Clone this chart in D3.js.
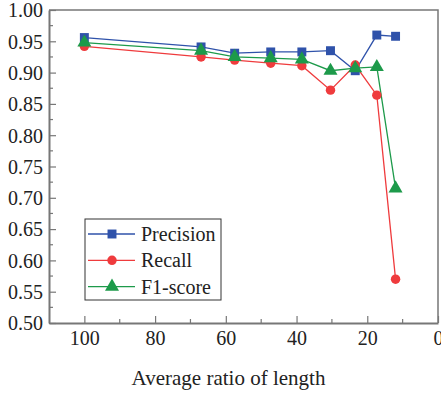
<!DOCTYPE html>
<html>
<head>
<meta charset="utf-8">
<script src="https://cdn.jsdelivr.net/npm/d3@7"></script>
<style>
  body { margin: 0; background: #fff; }
  svg { display: block; }
  text { font-family: "Liberation Serif", "Times New Roman", serif; fill: #222; }
</style>
</head>
<body>
<svg id="chart" width="441" height="396"></svg>
<script>
// average ratio of length (x) for each test point
var ratios = [100, 67, 57.5, 47.3, 38.5, 30.4, 23.4, 17.3, 12.0];
var precision = [0.956, 0.941, 0.931, 0.933, 0.933, 0.935, 0.903, 0.960, 0.958];
var recall    = [0.942, 0.925, 0.920, 0.915, 0.911, 0.872, 0.912, 0.864, 0.570];
var f1score   = [0.948, 0.935, 0.925, 0.923, 0.921, 0.903, 0.907, 0.909, 0.715];
var seriesNames = ["Precision", "Recall", "F1-score"];
var xTicks = [100, 80, 60, 40, 20, 0];
var yTicks = [0.50, 0.55, 0.60, 0.65, 0.70, 0.75, 0.80, 0.85, 0.90, 0.95, 1.00];

var svg = d3.select("#chart"),
    margin = {left: 49, top: 10, right: 3, bottom: 73},
    width = 441 - margin.left - margin.right,
    height = 396 - margin.top - margin.bottom;

var colors = ["#2f52aa", "#ef3b3d", "#1d9a4a"];
var symbols = [d3.symbolSquare, d3.symbolCircle, d3.symbolTriangle];
var symSizes = [80, 70, 85];
var axisColor = "#777";
var serif = "Liberation Serif, Times New Roman, serif";

var x = d3.scaleLinear().domain([110, 0]).range([0, width]);
var y = d3.scaleLinear().domain([0.5, 1.0]).range([height, 0]);

var g = svg.append("g").attr("transform", "translate(" + margin.left + "," + margin.top + ")");

// frame (top and right)
g.append("path")
    .attr("d", "M0,0H" + width + "V" + height)
    .attr("fill", "none")
    .attr("stroke", axisColor)
    .attr("stroke-width", 1.5);

// minor ticks
var xMinor = d3.range(10, 110, 20);
g.selectAll(".xminor").data(xMinor).enter().append("line")
    .attr("x1", x).attr("x2", x)
    .attr("y1", height).attr("y2", height - 4)
    .attr("stroke", axisColor).attr("stroke-width", 1.2);
var yMinor = d3.range(0.525, 1.0, 0.05);
g.selectAll(".yminor").data(yMinor).enter().append("line")
    .attr("y1", y).attr("y2", y)
    .attr("x1", 0).attr("x2", 4)
    .attr("stroke", axisColor).attr("stroke-width", 1.2);

var xAxis = g.append("g")
    .attr("transform", "translate(0," + height + ")")
    .call(d3.axisBottom(x).tickValues(xTicks).tickSizeInner(-7).tickSizeOuter(0).tickPadding(8).tickFormat(d3.format("d")));
var yAxis = g.append("g")
    .call(d3.axisLeft(y).tickValues(yTicks).tickSizeInner(-7).tickSizeOuter(0).tickPadding(6).tickFormat(d3.format(".2f")));

[xAxis, yAxis].forEach(function (ax) {
    ax.attr("font-family", serif);
    ax.select(".domain").attr("stroke", axisColor).attr("stroke-width", 2);
    ax.selectAll(".tick line").attr("stroke", axisColor).attr("stroke-width", 1.2);
    ax.selectAll(".tick text")
        .attr("font-family", serif)
        .attr("font-size", 20)
        .attr("fill", "#222");
});
yAxis.selectAll(".tick text").attr("dy", "0.34em");

svg.append("text")
    .attr("x", margin.left + width / 2 - 15)
    .attr("y", 385)
    .attr("text-anchor", "middle")
    .attr("font-family", serif)
    .attr("font-size", 21)
    .text("Average ratio of length");

var seriesData = [precision, recall, f1score];
var line = d3.line().x(function (d) { return x(d[0]); }).y(function (d) { return y(d[1]); });

seriesData.forEach(function (vals, i) {
    var pts = ratios.map(function (r, j) { return [r, vals[j]]; });
    g.append("path")
        .datum(pts)
        .attr("d", line)
        .attr("fill", "none")
        .attr("stroke", colors[i])
        .attr("stroke-width", 1.3);
});
seriesData.forEach(function (vals, i) {
    var pts = ratios.map(function (r, j) { return [r, vals[j]]; });
    g.selectAll(".m" + i).data(pts).enter().append("path")
        .attr("transform", function (d) { return "translate(" + x(d[0]) + "," + y(d[1]) + ")"; })
        .attr("d", d3.symbol().type(symbols[i]).size(symSizes[i]))
        .attr("fill", colors[i]);
});

// legend
var legend = svg.append("g").attr("transform", "translate(85,219)");
legend.append("rect")
    .attr("width", 136).attr("height", 81)
    .attr("fill", "#fff")
    .attr("stroke", "#333").attr("stroke-width", 1);
seriesNames.forEach(function (name, i) {
    var row = legend.append("g").attr("transform", "translate(0," + (15 + i * 26.3) + ")");
    row.append("line")
        .attr("x1", 3).attr("x2", 50)
        .attr("stroke", colors[i]).attr("stroke-width", 1.3);
    row.append("path")
        .attr("transform", "translate(27,0)")
        .attr("d", d3.symbol().type(symbols[i]).size(symSizes[i]))
        .attr("fill", colors[i]);
    row.append("text")
        .attr("x", 56).attr("dy", "0.35em")
        .attr("font-family", serif)
        .attr("font-size", 20)
        .text(name);
});
</script>
</body>
</html>
